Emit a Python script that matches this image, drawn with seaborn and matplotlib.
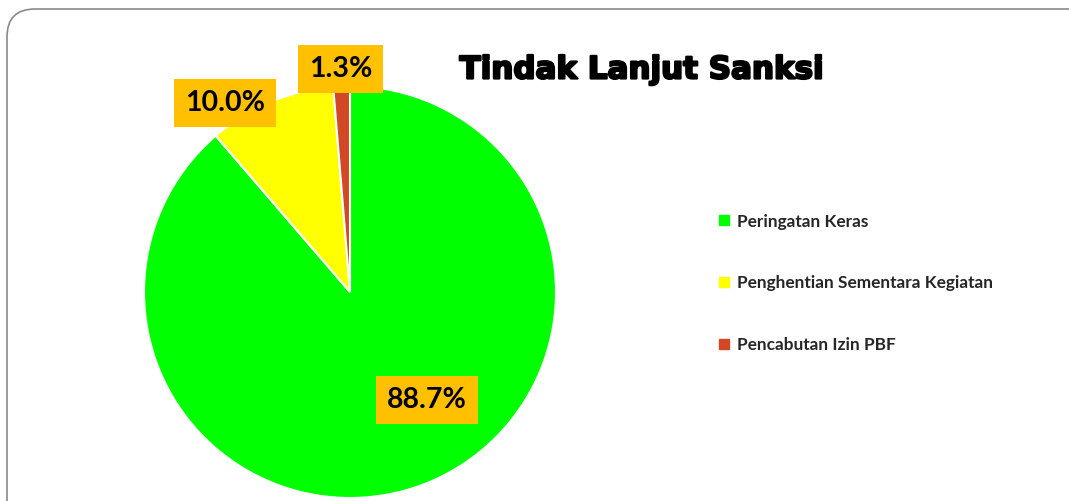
import matplotlib
matplotlib.use("Agg")
import matplotlib.pyplot as plt
from matplotlib.patches import FancyBboxPatch
from matplotlib.lines import Line2D
import matplotlib.patheffects as pe
import seaborn as sns

categories = ["Peringatan Keras", "Penghentian Sementara Kegiatan", "Pencabutan Izin PBF"]
values = [88.7, 10.0, 1.3]
colors = ["#00FF00", "#FFFF00", "#D24726"]
title = "Tindak Lanjut Sanksi"

sns.set_theme(style="white")
plt.rcParams['font.family'] = ['Lato', 'DejaVu Sans']

W, H = 1069, 501
fig = plt.figure(figsize=(W / 100, H / 100), dpi=100)
fig.patch.set_facecolor("white")

# rounded border
border = FancyBboxPatch((7, -40), 1100, 492 + 40, boxstyle="round,pad=0,rounding_size=28",
                        transform=None, facecolor="none", edgecolor="#8a8a8a", linewidth=1.2)
fig.patches.append(border)

# pie axes: center (350,292) px from top, radius 206
cx, cy, r = 350, 292, 206
ax = fig.add_axes([(cx - r) / W, (H - cy - r) / H, 2 * r / W, 2 * r / H])
pal = sns.color_palette(colors)
wedges, texts, autotexts = ax.pie(values, colors=pal, startangle=90, counterclock=False,
                                  autopct="%1.1f%%",
                                  wedgeprops=dict(edgecolor="white", linewidth=1.5))
ax.set_xlim(-1, 1)
ax.set_ylim(-1, 1)
ax.set_aspect("auto")
ax.axis("off")

label_pos = [(0.374, -0.524), (-0.607, 0.917), (-0.044, 1.083)]
for t, pos in zip(autotexts, label_pos):
    t.set_position(pos)
    t.set_fontsize(20.5)
    t.set_fontweight("bold")
    t.set_color("black")
    t.set_ha("center")
    t.set_va("center")
    t.set_bbox(dict(boxstyle="square,pad=0.38", facecolor="#FFC000", edgecolor="none"))
    t.set_clip_on(False)

fig.text(642 / W, 1 - 70 / H, title, ha="center", va="center", fontsize=22.3,
         fontweight="bold", color="black", family=["DejaVu Sans"],
         path_effects=[pe.withStroke(linewidth=1.6, foreground="black")])

handles = [Line2D([0], [0], marker="s", linestyle="none", markersize=6.5,
                  markerfacecolor=c, markeredgecolor=c) for c in colors]
leg = fig.legend(handles, categories, loc="upper left",
                 bbox_to_anchor=(703 / W, 1 - 198 / H), frameon=False,
                 handlelength=0.6, handletextpad=0.45, labelspacing=2.66,
                 prop=dict(size=12.4, weight="bold"))
for txt in leg.get_texts():
    txt.set_color("#262626")

fig.savefig("out.png", dpi=100, facecolor="white")
